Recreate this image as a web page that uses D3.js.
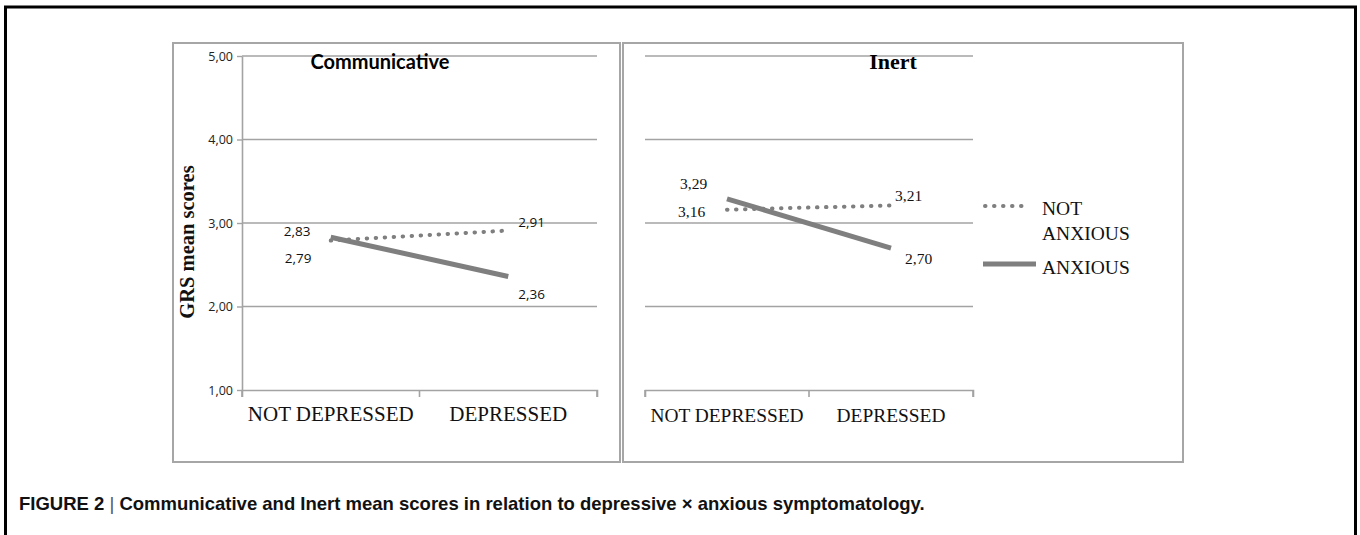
<!DOCTYPE html>
<html><head><meta charset="utf-8">
<script src="https://cdn.jsdelivr.net/npm/d3@7"></script>
<style>body{margin:0;background:#fff}svg{display:block}</style>
</head><body>
<svg id="c" width="1360" height="535"></svg>
<script>
const categories = ["NOT DEPRESSED", "DEPRESSED"];
const seriesNames = ["NOT ANXIOUS", "ANXIOUS"];
const communicativeNotAnxious = [2.79, 2.91];
const communicativeAnxious = [2.83, 2.36];
const inertNotAnxious = [3.16, 3.21];
const inertAnxious = [3.29, 2.70];
const yTicks = [1, 2, 3, 4, 5];
const panelTitles = ["Communicative", "Inert"];
const yTitle = "GRS mean scores";
const caption = "Communicative and Inert mean scores in relation to depressive \u00d7 anxious symptomatology.";

const svg = d3.select("#c");
const fmt = v => d3.format(".2f")(v).replace(".", ",");
const LINE = "#7f7f7f";
const GRID = "#a3a3a3";

// outer frame
svg.append("rect").attr("x", 5.5).attr("y", 7).attr("width", 1350).attr("height", 560)
  .attr("fill", "none").attr("stroke", "#000").attr("stroke-width", 3);

// panel boxes
svg.append("rect").attr("x", 173).attr("y", 43).attr("width", 447).attr("height", 419)
  .attr("fill", "none").attr("stroke", "#a6a6a6").attr("stroke-width", 2);
svg.append("rect").attr("x", 623).attr("y", 43).attr("width", 560).attr("height", 419)
  .attr("fill", "none").attr("stroke", "#a6a6a6").attr("stroke-width", 2);

const y = d3.scaleLinear().domain([1, 5]).range([390, 56]);

function panel(opts) {
  const x = d3.scaleBand().domain(categories).range(opts.xr);
  const g = svg.append("g");
  g.append("g").selectAll("line").data(yTicks.slice(1)).join("line")
    .attr("x1", opts.xr[0]).attr("x2", opts.xr[1])
    .attr("y1", d => y(d)).attr("y2", d => y(d))
    .attr("stroke", GRID).attr("stroke-width", 1.6);
  const xa = g.append("g").attr("transform", `translate(0,${y(1)})`)
    .call(d3.axisBottom(x).tickSize(7).tickSizeOuter(7).tickFormat(""));
  xa.select(".domain").attr("stroke", GRID).attr("stroke-width", 1.6);
  xa.selectAll(".tick").remove();
  const bounds = [opts.xr[0], x(categories[1]), opts.xr[1]];
  g.append("g").selectAll("line").data(bounds).join("line")
    .attr("x1", d => d).attr("x2", d => d).attr("y1", y(1)).attr("y2", y(1) + 7)
    .attr("stroke", GRID).attr("stroke-width", 1.6);
  g.append("g").selectAll("text").data(categories).join("text")
    .attr("x", d => x(d) + x.bandwidth() / 2).attr("y", y(1) + opts.catDy)
    .attr("text-anchor", "middle").attr("font-family", "Liberation Serif")
    .attr("font-size", opts.catSize).attr("fill", "#111").text(d => d);

  if (opts.yAxis) {
    const ya = g.append("g").attr("transform", `translate(${opts.xr[0]},0)`)
      .call(d3.axisLeft(y).tickValues(yTicks).tickSize(5).tickSizeOuter(0).tickFormat(fmt));
    ya.select(".domain").attr("stroke", GRID).attr("stroke-width", 1.6);
    ya.selectAll(".tick line").attr("stroke", GRID).attr("stroke-width", 1.4);
    ya.selectAll(".tick text").attr("font-family", "Open Sans").attr("font-size", 12.5)
      .attr("fill", "#222").attr("x", -9);
    g.append("text").attr("transform", `translate(${opts.xr[0] - 48},${y(3) + 19}) rotate(-90)`)
      .attr("text-anchor", "middle").attr("font-family", "Liberation Serif")
      .attr("font-weight", "bold").attr("font-size", 20.5).attr("fill", "#111").text(yTitle);
  }

  g.append("text").attr("x", opts.titleX).attr("y", 69).attr("text-anchor", "middle")
    .attr("font-family", opts.titleFont).attr("font-weight", "bold")
    .attr("font-size", opts.titleSize).attr("fill", "#000").text(opts.title);

  const cx = d => x(d) + x.bandwidth() / 2;
  const line = d3.line().x(d => cx(d.c)).y(d => y(d.v));
  const notA = categories.map((c, i) => ({c, v: opts.notAnx[i]}));
  const anx = categories.map((c, i) => ({c, v: opts.anx[i]}));
  g.append("path").datum(anx).attr("d", line).attr("fill", "none")
    .attr("stroke", LINE).attr("stroke-width", 5);
  g.append("path").datum(notA).attr("d", line).attr("fill", "none")
    .attr("stroke", LINE).attr("stroke-width", 4).attr("stroke-linecap", "round")
    .attr("stroke-dasharray", "0.5 8.5");

  const lab = (d, dx, dy) => g.append("text").attr("x", cx(d.c) + dx).attr("y", y(d.v) + dy)
    .attr("font-family", opts.labFont).attr("font-size", opts.labSize).attr("fill", "#111")
    .attr("dominant-baseline", "central").text(fmt(d.v));
  opts.labels(lab, notA, anx);
}

panel({
  xr: [242, 597], yAxis: true, catSize: 21, catDy: 31, title: panelTitles[0], titleX: 380,
  titleFont: "Lato", titleSize: 20, labFont: "Open Sans", labSize: 13.5,
  notAnx: communicativeNotAnxious, anx: communicativeAnxious,
  labels: (lab, n, a) => {
    lab(a[0], -47, -6); lab(n[0], -46, 17);
    lab(n[1], 10, -9); lab(a[1], 10, 18);
  }
});
panel({
  xr: [645, 973], yAxis: false, catSize: 19.4, catDy: 32, title: panelTitles[1], titleX: 893,
  titleFont: "Liberation Serif", titleSize: 22, labFont: "Liberation Serif", labSize: 15.5,
  notAnx: inertNotAnxious, anx: inertAnxious,
  labels: (lab, n, a) => {
    lab(a[0], -47, -15); lab(n[0], -49, 2);
    lab(n[1], 4, -10); lab(a[1], 14, 10);
  }
});

// legend
const leg = svg.append("g").attr("font-family", "Liberation Serif").attr("font-size", 19.5).attr("fill", "#111");
leg.append("line").attr("x1", 985).attr("x2", 1028).attr("y1", 206).attr("y2", 206)
  .attr("stroke", LINE).attr("stroke-width", 4).attr("stroke-linecap", "round").attr("stroke-dasharray", "0.5 8.5");
leg.append("text").attr("x", 1042).attr("y", 208).attr("dominant-baseline", "central").text("NOT");
leg.append("text").attr("x", 1042).attr("y", 233).attr("dominant-baseline", "central").text("ANXIOUS");
leg.append("line").attr("x1", 983).attr("x2", 1036).attr("y1", 264).attr("y2", 264)
  .attr("stroke", LINE).attr("stroke-width", 5);
leg.append("text").attr("x", 1042).attr("y", 267).attr("dominant-baseline", "central").text(seriesNames[1]);

// caption
const cap = svg.append("text").attr("x", 19).attr("y", 510).attr("font-family", "Liberation Sans")
  .attr("font-weight", "bold").attr("font-size", 18.5).attr("fill", "#111");
cap.append("tspan").text("FIGURE 2 ");
cap.append("tspan").attr("font-weight", "normal").attr("fill", "#555").text("|");
cap.append("tspan").text(" " + caption);
</script>
</body></html>
